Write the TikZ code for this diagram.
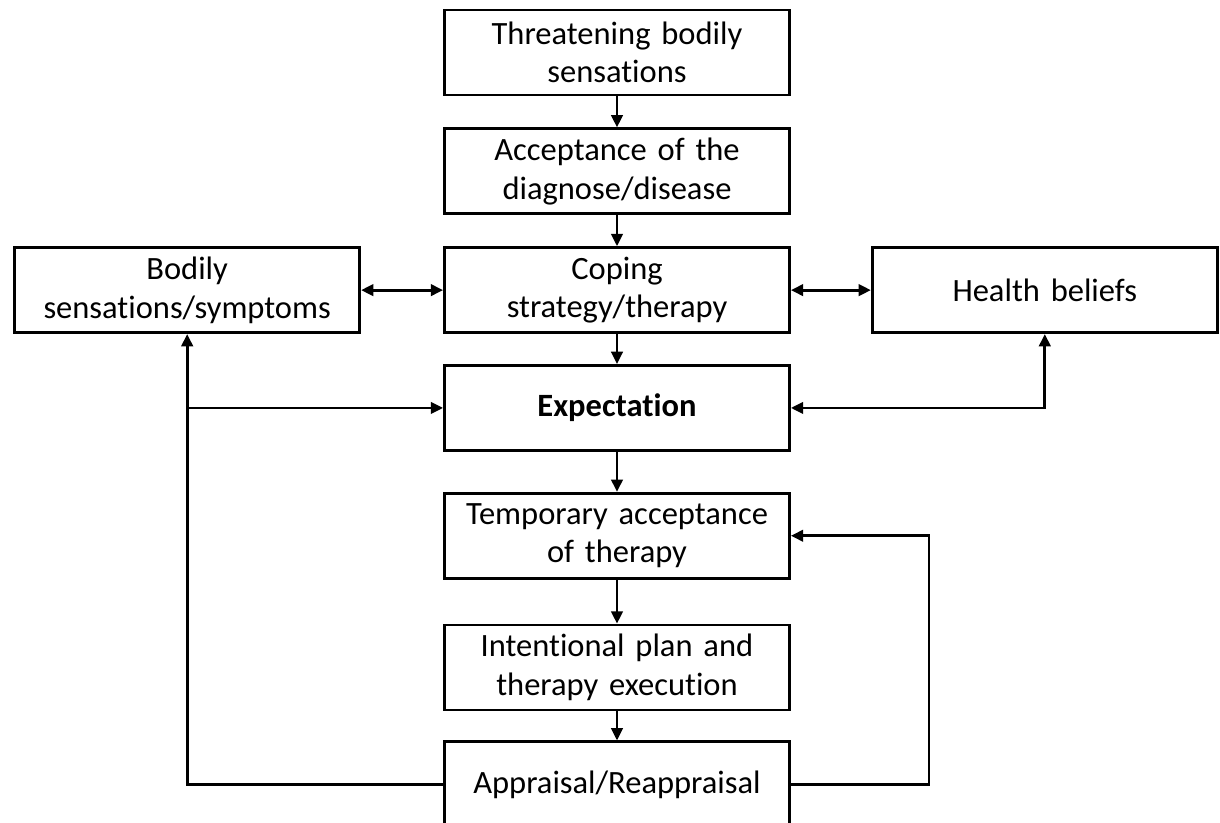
\documentclass[tikz,border=0pt]{standalone}
\usepackage{fontspec}
\setmainfont{Carlito}[Ligatures=NoCommon]
\usetikzlibrary{arrows.meta,positioning}
\tikzset{
  boite/.style={rectangle, draw=black, line width=1.6pt, fill=white, inner sep=0pt,
                align=center, text width=6.9cm, minimum height=1.7cm,
                font=\fontsize{18.5}{22}\selectfont},
  arr/.style={-{Triangle[length=7pt,width=6.5pt]}, line width=1.6pt},
  arrd/.style={{Triangle[length=7pt,width=6.5pt]}-{Triangle[length=7pt,width=6.5pt]}, line width=1.6pt},
}
\begin{document}
\begin{tikzpicture}
        \useasboundingbox (-12.34,1.05) rectangle (12.06,-15.41);
        \node[boite] (menace) at (0,0) {Threatening bodily\\sensations};
        \node[boite, below=0.62cm of menace] (accept) {Acceptance of the\\diagnose/disease};
        \node[boite, below=0.62cm of accept] (coping) {Coping\\strategy/therapy};
        \node[boite, left=1.64cm of coping] (corps) {Bodily\\sensations/symptoms};
        \node[boite, right=1.6cm of coping] (sante) {Health beliefs};
        \node[boite, below=0.6cm of coping] (attente) {\textbf{Expectation}};
        \node[boite, below=0.8cm of attente] (temp) {Temporary acceptance\\of therapy};
        \node[boite, below=0.88cm of temp] (plan) {Intentional plan and\\therapy execution};
        \node[boite, below=0.58cm of plan] (apprec) {Appraisal/Reappraisal};
        \draw[arr] (menace) -- (accept);
        \draw[arr] (accept) -- (coping);
        \draw[arr] (coping) -- (attente);
        \draw[arr] (attente) -- (temp);
        \draw[arr] (temp) -- (plan);
        \draw[arr] (plan) -- (apprec);
        \draw[arrd] (corps) -- (coping);
        \draw[arrd] (coping) -- (sante);
        \draw[arrd] (attente.east) -| (sante.south);
        \draw[arr] (apprec.west) -| (corps.south);
        \draw[arr] (corps.south |- attente.west) -- (attente.west);
        \draw[arr] (apprec.east) -- ++(2.76,0) |- (temp.east);
      \end{tikzpicture}
\end{document}
